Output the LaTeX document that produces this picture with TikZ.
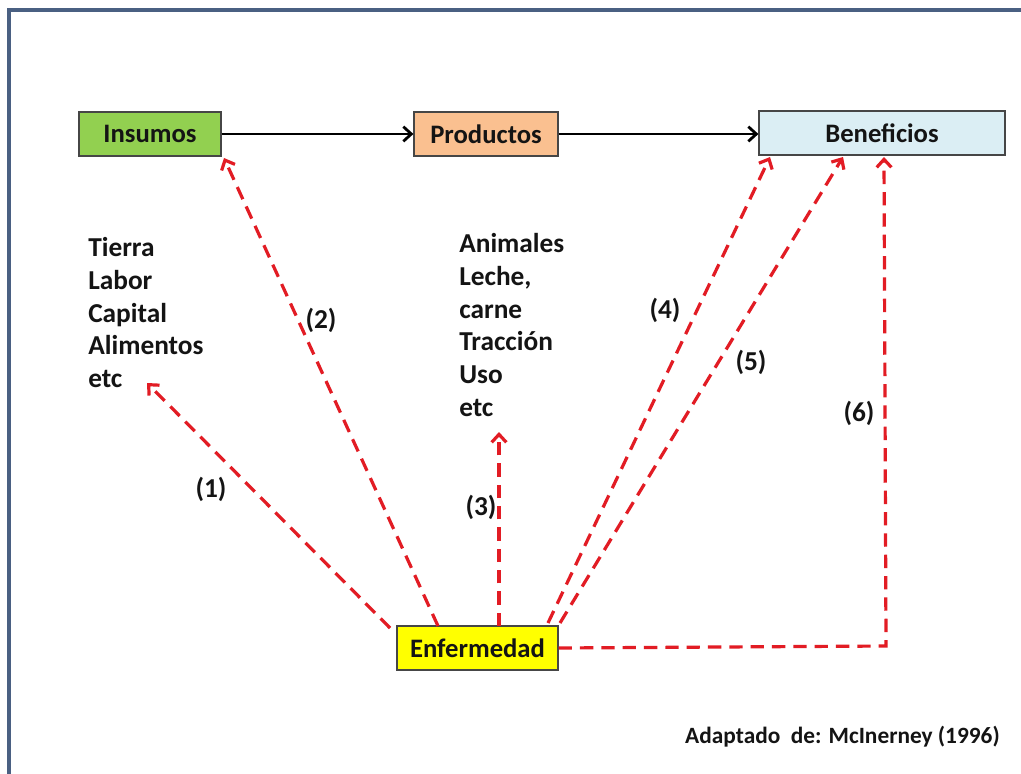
\documentclass[tikz,border=0pt]{standalone}
\usepackage{fontspec}
\setmainfont{Carlito}
\usetikzlibrary{arrows.meta}
\definecolor{framec}{RGB}{74,96,130}
\definecolor{insgreen}{RGB}{146,208,80}
\definecolor{prodpeach}{RGB}{250,192,144}
\definecolor{benblue}{RGB}{219,238,244}
\definecolor{enfyellow}{RGB}{255,255,0}
\definecolor{dashred}{RGB}{226,28,36}
\definecolor{boxline}{RGB}{70,70,70}
\definecolor{txt}{RGB}{20,20,20}
\tikzset{
  box/.style={draw=boxline, line width=0.9pt, minimum height=33pt, inner sep=0pt,
    text=txt, font=\fontsize{20}{24}\selectfont\bfseries},
  flow/.style={draw=black, line width=2.1pt, -{Straight Barb[length=6pt,width=11pt,line width=2.1pt]}},
  effect/.style={draw=dashred, line width=2.4pt, dash pattern=on 10pt off 6pt,
    -{Straight Barb[length=6pt,width=11pt,line width=2.4pt]}},
  listtxt/.style={text=txt, font=\fontsize{20.5}{24.6}\selectfont\bfseries, align=left, inner sep=0pt},
  lbl/.style={text=txt, font=\fontsize{20.5}{24}\selectfont\bfseries, inner sep=0pt}
}
\begin{document}
\begin{tikzpicture}[x=0.75pt,y=-0.75pt]
\useasboundingbox (0,0) rectangle (1021,774);
\fill[white] (0,0) rectangle (1021,774);
\draw[framec, line width=2.4pt] (9,780) -- (9,10) -- (1030,10);

\node[box, fill=insgreen, minimum width=106.5pt] (ins) at (150,134) {Insumos};
\node[box, fill=prodpeach, minimum width=108pt] (prod) at (486,134) {Productos};
\node[box, fill=benblue, minimum width=184.5pt] (ben) at (882,133) {Beneficios};
\node[box, fill=enfyellow, minimum width=120.75pt] (enf) at (477.5,648) {Enfermedad};

\draw[flow] (ins.east) -- (prod.west);
\draw[flow] (prod.east) -- (prod.east -| ben.west);

\node[listtxt, anchor=north west] (inlist) at (88,237) {Tierra\\Labor\\Capital\\Alimentos\\etc};
\node[listtxt, anchor=north west] (prlist) at (459,233) {Animales\\Leche,\\carne\\Tracción\\Uso\\etc};

\coordinate (s1) at (390,628);
\coordinate (t1) at (147,383);
\coordinate (s2) at (438,626);
\coordinate (t2) at (224,158);
\coordinate (s3) at (499,626);
\coordinate (t3) at (499,432);
\coordinate (s4) at (548,623);
\coordinate (t4) at (770,157);
\coordinate (s5) at (560,623);
\coordinate (t5) at (843,157);
\coordinate (c6) at (886,646);
\coordinate (t6) at (884,157);

\draw[effect] (s1) -- (t1);
\draw[effect] (s2) -- (t2);
\draw[effect] (s3) -- (t3);
\draw[effect] (s4) -- (t4);
\draw[effect] (s5) -- (t5);
\draw[effect] (enf.east) -- (c6) -- (t6);

\node[lbl] (l1) at (211,489) {(1)};
\node[lbl] (l2) at (321,320) {(2)};
\node[lbl] (l3) at (481,507) {(3)};
\node[lbl] (l4) at (665,310) {(4)};
\node[lbl] (l5) at (751,362) {(5)};
\node[lbl] (l6) at (859,413) {(6)};

\node[text=txt, font=\fontsize{17.5}{21}\selectfont\bfseries, anchor=east, inner sep=0pt] (src) at (1000,737) {Adaptado\ \ de: McInerney (1996)};
\end{tikzpicture}
\end{document}
